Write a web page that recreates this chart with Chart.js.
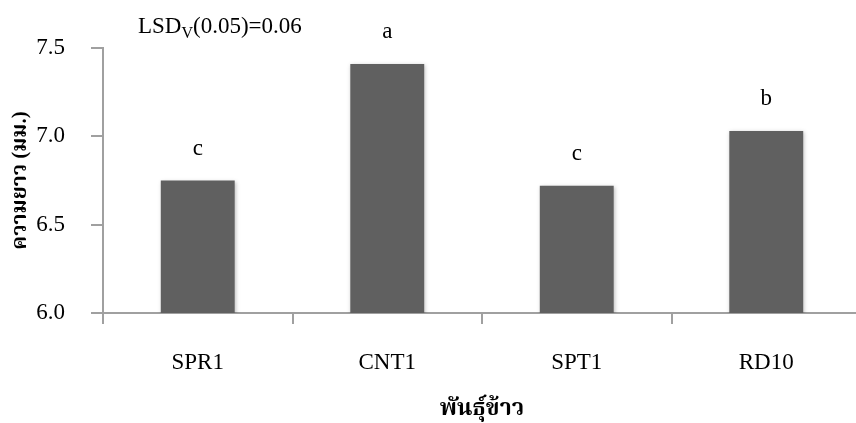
<!DOCTYPE html>
<html>
<head>
<meta charset="utf-8">
<script src="https://cdn.jsdelivr.net/npm/chart.js"></script>
<style>
  html, body { margin: 0; padding: 0; background: #fff; overflow: hidden; }
  #wrap { width: 856px; height: 423px; overflow: hidden; }
</style>
</head>
<body>
<div id="wrap"><canvas id="chart" width="861" height="423"></canvas></div>
<script>
// rice varieties and mean length (mm)
const varieties = ['SPR1', 'CNT1', 'SPT1', 'RD10'];
const lengths = [6.75, 7.41, 6.72, 7.03];
const letters = ['c', 'a', 'c', 'b'];
const yTicks = [6.0, 6.5, 7.0, 7.5];

const serif = "'Liberation Serif', 'Times New Roman', 'Noto Serif Thai', 'Noto Sans Thai', serif";
const axisColor = '#a0a0a0';

// letters over the bars + LSD note
const notes = {
  id: 'notes',
  afterDatasetsDraw(chart) {
    const ctx = chart.ctx;
    const meta = chart.getDatasetMeta(0);
    ctx.save();
    ctx.fillStyle = '#000';
    ctx.font = '23px ' + serif;
    ctx.textAlign = 'center';
    ctx.textBaseline = 'middle';
    meta.data.forEach((bar, i) => {
      ctx.fillText(letters[i], bar.x, bar.y - 32);
    });
    // LSD_V(0.05)=0.06
    ctx.textAlign = 'left';
    ctx.textBaseline = 'alphabetic';
    let x = 138, y = 33;
    ctx.font = '23px ' + serif;
    ctx.fillText('LSD', x, y);
    x += ctx.measureText('LSD').width;
    ctx.font = '16px ' + serif;
    ctx.fillText('V', x, y + 5);
    x += ctx.measureText('V').width;
    ctx.font = '23px ' + serif;
    ctx.fillText('(0.05)=0.06', x, y);
    ctx.restore();
  }
};

const shadow = {
  id: 'shadow',
  beforeDatasetDraw(chart) {
    const ctx = chart.ctx;
    ctx.save();
    ctx.shadowColor = 'rgba(0,0,0,0.25)';
    ctx.shadowBlur = 4;
    ctx.shadowOffsetX = 1;
    ctx.shadowOffsetY = 1;
  },
  afterDatasetDraw(chart) {
    chart.ctx.restore();
  }
};

new Chart(document.getElementById('chart'), {
  type: 'bar',
  data: {
    labels: varieties,
    datasets: [{
      data: lengths,
      backgroundColor: '#606060',
      borderWidth: 0,
      categoryPercentage: 1,
      barPercentage: 0.39
    }]
  },
  options: {
    responsive: false,
    animation: false,
    layout: { padding: { top: 48, right: 0, left: 0, bottom: 0 } },
    plugins: {
      legend: { display: false },
      tooltip: { enabled: false }
    },
    scales: {
      x: {
        grid: {
          drawOnChartArea: false,
          drawTicks: true,
          tickLength: 11,
          color: axisColor,
          lineWidth: 2
        },
        border: { color: axisColor, width: 2 },
        ticks: {
          color: '#000',
          font: { family: serif, size: 23 },
          padding: 25
        },
        title: {
          display: true,
          text: 'พันธุ์ข้าว',
          color: '#000',
          font: { family: serif, size: 23, weight: 'bold' },
          padding: { top: 0, bottom: 0 }
        },
        afterFit(scale) { scale.height = 110; }
      },
      y: {
        min: 6.0,
        max: 7.5,
        afterBuildTicks(scale) {
          scale.ticks = yTicks.map(v => ({ value: v }));
        },
        grid: {
          drawOnChartArea: false,
          drawTicks: true,
          tickLength: 12,
          color: axisColor,
          lineWidth: 2
        },
        border: { color: axisColor, width: 2 },
        ticks: {
          color: '#000',
          font: { family: serif, size: 23 },
          padding: 26,
          callback: v => Number(v).toFixed(1)
        },
        title: {
          display: true,
          text: 'ความยาว (มม.)',
          color: '#000',
          font: { family: serif, size: 21, weight: 'bold' },
          padding: { top: 8, bottom: 0 }
        },
        afterFit(scale) { scale.width = 103; }
      }
    }
  },
  plugins: [shadow, notes]
});
</script>
</body>
</html>
